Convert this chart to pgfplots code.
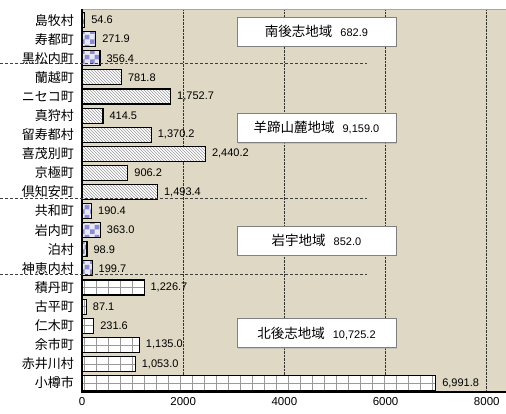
\documentclass[border=0pt]{standalone}
\usepackage{pgfplots}
\pgfplotsset{compat=1.18}
\usepackage{fontspec}
\setmainfont{Liberation Sans}
\newfontfamily\cjk{Noto Sans CJK JP}
\usetikzlibrary{patterns,shadows}
\definecolor{bg}{RGB}{222,216,197}
\definecolor{lav}{RGB}{140,140,210}
\definecolor{lavbg}{RGB}{232,232,245}
\pgfdeclarepatternformonly{checker}{\pgfpointorigin}{\pgfpoint{10pt}{10pt}}{\pgfpoint{10pt}{10pt}}{%
  \pgfpathrectangle{\pgfpointorigin}{\pgfpoint{5pt}{5pt}}%
  \pgfpathrectangle{\pgfpoint{5pt}{5pt}}{\pgfpoint{5pt}{5pt}}%
  \pgfusepath{fill}}
\pgfdeclarepatternformonly{vlines12}{\pgfpoint{-1pt}{-1pt}}{\pgfpoint{12pt}{12pt}}{\pgfpoint{12pt}{12pt}}{%
  \pgfsetlinewidth{0.6pt}%
  \pgfpathmoveto{\pgfpoint{0pt}{-1pt}}\pgfpathlineto{\pgfpoint{0pt}{13pt}}%
  \pgfusepath{stroke}}
\begin{document}
\begin{tikzpicture}
\useasboundingbox (0,0) rectangle (506pt,414pt);
\begin{axis}[
  at={(82pt,22pt)}, anchor=south west,
  scale only axis, width=424pt, height=383pt,
  xmin=0, xmax=8380, ymin=-0.58, ymax=19.47, y dir=reverse,
  clip=false,
  axis background/.style={fill=bg},
  axis line style={draw=none},
  xtick={0,2000,4000,6000,8000},
  ytick={0,...,19},
  yticklabels={島牧村,寿都町,黒松内町,蘭越町,ニセコ町,真狩村,留寿都村,喜茂別町,京極町,倶知安町,共和町,岩内町,泊村,神恵内村,積丹町,古平町,仁木町,余市町,赤井川村,小樽市},
  yticklabel style={font=\cjk\fontsize{13}{15}\selectfont, xshift=-4.5pt},
  xticklabel style={font=\fontsize{11.5}{13}\selectfont, yshift=-2pt},
  /pgf/number format/assume math mode=true,
  scaled x ticks=false,
  xticklabel={\pgfmathprintnumber[fixed,1000 sep={}]{\tick}},
  major tick length=0pt,
  xmajorgrids, grid style={densely dotted, gray!40!black, line width=0.6pt},
  every axis plot/.append style={xbar, bar width=15pt, bar shift=0pt, draw=black, line width=1.1pt},
  point meta=x,
  nodes near coords,
  nodes near coords style={anchor=west, inner sep=0pt, xshift=6pt, font=\fontsize{11}{12}\selectfont, /pgf/number format/.cd, fixed, fixed zerofill, precision=1, 1000 sep={,}},
]
% group 1 南後志
\addplot[fill=lavbg, postaction={pattern=checker, pattern color=lav}] coordinates {(54.6,0) (271.9,1) (356.4,2)};
% group 2 羊蹄山麓
\addplot[fill=white, postaction={pattern=north west lines, pattern color=gray!80}] coordinates {(781.8,3) (1752.7,4) (414.5,5) (1370.2,6) (2440.2,7) (906.2,8) (1493.4,9)};
% group 3 岩宇
\addplot[fill=lavbg, postaction={pattern=checker, pattern color=lav}] coordinates {(190.4,10) (363.0,11) (98.9,12) (199.7,13)};
% group 4 北後志
\addplot[fill=white, postaction={pattern=vlines12, pattern color=gray!80}] coordinates {(1226.7,14) (87.1,15) (231.6,16) (1135.0,17) (1053.0,18) (6991.8,19)};
\addplot[forget plot, bar width=0pt, draw=gray!80, line width=0.6pt, nodes near coords={}] coordinates {(1226.7,14) (87.1,15) (231.6,16) (1135.0,17) (1053.0,18) (6991.8,19)};
\addplot[forget plot, fill=none, draw=black, line width=1.1pt, nodes near coords={}] coordinates {(1226.7,14) (87.1,15) (231.6,16) (1135.0,17) (1053.0,18) (6991.8,19)};
% frame
\draw[gray!70, line width=0.8pt] (rel axis cs:0,1) -- (rel axis cs:1,1);
\draw[black, line width=1.2pt] (rel axis cs:0,1) -- (rel axis cs:0,0) -- (rel axis cs:1,0);
% separators
\draw[densely dashed, gray!50!black, line width=0.6pt] ([xshift=-82pt]axis cs:0,2.25) -- (axis cs:5640,2.25);
\draw[densely dashed, gray!50!black, line width=0.6pt] ([xshift=-82pt]axis cs:0,9.35) -- (axis cs:5640,9.35);
\draw[densely dashed, gray!50!black, line width=0.6pt] ([xshift=-82pt]axis cs:0,13.3) -- (axis cs:5640,13.3);
% region boxes
\tikzset{regbox/.style={draw=gray, fill=white, line width=0.8pt, minimum width=159pt, minimum height=29pt, inner sep=0pt, anchor=center, drop shadow={shadow xshift=1.2pt, shadow yshift=-1.2pt, fill=gray!60, opacity=0.6}}}
\node[regbox] at (axis cs:4634,0.6) {{\cjk\fontsize{13.5}{15}\selectfont 南後志地域}\hspace{8pt}{\fontsize{11}{12}\selectfont 682.9}};
\node[regbox] at (axis cs:4634,5.65) {{\cjk\fontsize{13.5}{15}\selectfont 羊蹄山麓地域}\hspace{8pt}{\fontsize{11}{12}\selectfont 9,159.0}};
\node[regbox] at (axis cs:4634,11.54) {{\cjk\fontsize{13.5}{15}\selectfont 岩宇地域}\hspace{8pt}{\fontsize{11}{12}\selectfont 852.0}};
\node[regbox] at (axis cs:4634,16.4) {{\cjk\fontsize{13.5}{15}\selectfont 北後志地域}\hspace{8pt}{\fontsize{11}{12}\selectfont 10,725.2}};
\end{axis}
\end{tikzpicture}
\end{document}
